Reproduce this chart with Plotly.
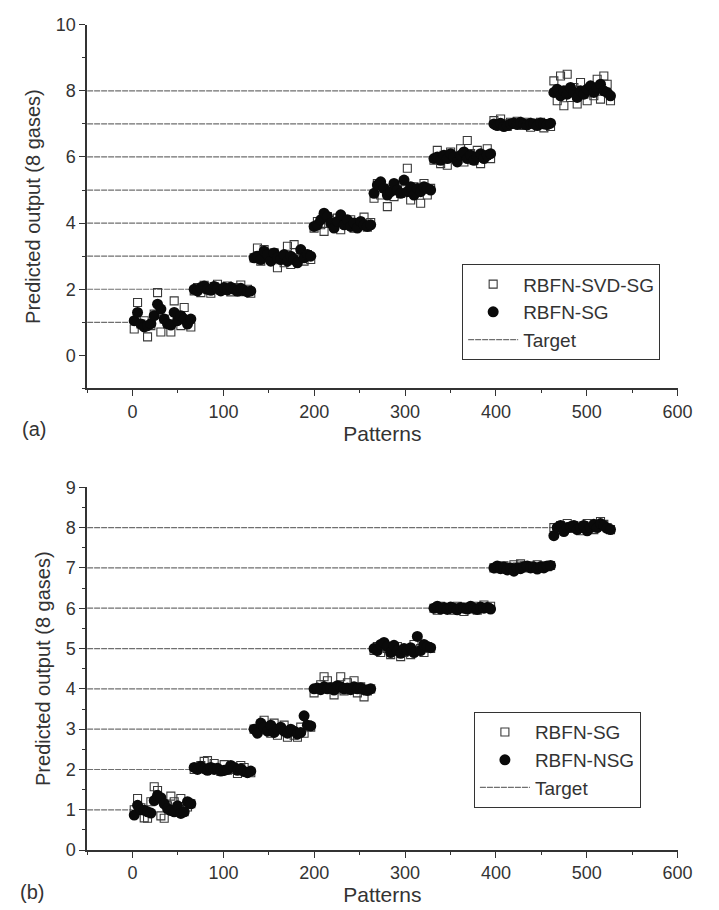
import numpy as np
import plotly.graph_objects as go

# ---------------- data ----------------
patterns_per_class = 66
target_levels = [1, 2, 3, 4, 5, 6, 7, 8]
class_starts = [0, 66, 132, 198, 264, 330, 396, 462]

# (a) RBFN-SVD-SG (open squares)
a_rbfn_svd_sg = [
    [0.80, 1.60, 0.95, 1.05, 0.56, 0.90, 1.25, 1.90, 0.71, 1.10, 0.95, 0.71, 1.65, 1.20, 0.90, 1.45, 1.00, 0.86],
    [1.95, 2.05, 1.90, 2.12, 2.00, 1.88, 2.08, 2.15, 1.97, 2.02, 2.10, 1.92, 2.05, 1.98, 2.13, 1.93, 2.00, 1.88],
    [2.95, 3.25, 2.85, 3.20, 3.05, 2.90, 3.10, 2.65, 3.00, 2.80, 3.30, 2.75, 3.35, 2.95, 3.15, 2.85, 3.05, 2.90],
    [3.85, 4.05, 3.95, 3.75, 4.20, 4.00, 3.90, 4.15, 3.80, 4.05, 3.95, 4.10, 3.85, 4.00, 3.92, 4.18, 3.88, 4.02],
    [4.75, 5.20, 4.85, 5.05, 4.50, 5.00, 4.80, 5.15, 4.90, 5.25, 5.66, 4.70, 5.10, 4.95, 4.60, 5.20, 4.85, 5.05],
    [5.90, 6.20, 5.80, 6.05, 5.75, 6.15, 5.95, 6.00, 6.25, 5.85, 6.50, 6.10, 5.90, 6.20, 5.80, 6.05, 6.25, 5.95],
    [7.10, 6.95, 7.15, 7.00, 6.92, 7.05, 6.98, 7.08, 7.00, 6.95, 7.05, 6.90, 7.02, 6.97, 7.05, 6.88, 7.00, 6.92],
    [8.30, 7.70, 8.45, 7.55, 8.50, 7.80, 8.10, 7.60, 8.25, 7.90, 7.70, 8.05, 7.85, 8.35, 7.75, 8.45, 8.20, 7.70],
]
# (a) RBFN-SG (filled circles)
a_rbfn_sg = [
    [1.05, 1.30, 0.95, 0.86, 0.90, 0.96, 1.20, 1.55, 1.40, 1.10, 0.96, 0.92, 1.30, 1.05, 1.20, 1.10, 0.95, 1.10],
    [2.00, 1.95, 2.05, 2.10, 2.00, 1.97, 2.08, 2.02, 1.95, 2.05, 1.98, 2.06, 2.00, 1.94, 2.03, 1.96, 1.92, 1.95],
    [2.95, 3.00, 2.90, 3.15, 3.05, 2.85, 3.10, 2.95, 2.90, 3.05, 2.85, 3.00, 2.90, 2.80, 3.20, 2.95, 3.05, 3.00],
    [3.90, 3.95, 4.10, 4.30, 4.20, 4.00, 3.85, 4.05, 4.25, 3.95, 4.10, 3.90, 4.00, 3.85, 4.05, 3.95, 3.90, 3.95],
    [4.90, 5.15, 5.25, 5.05, 4.85, 4.95, 5.20, 5.00, 4.90, 5.30, 4.95, 5.10, 4.85, 5.05, 4.95, 5.10, 5.05, 5.00],
    [5.95, 6.00, 5.90, 6.05, 5.95, 6.10, 6.00, 5.85, 6.05, 6.15, 5.95, 6.05, 5.90, 6.00, 6.10, 5.95, 6.05, 6.10],
    [7.00, 6.95, 7.02, 6.92, 6.95, 7.00, 7.03, 6.98, 7.05, 7.00, 6.97, 7.02, 7.00, 6.95, 7.03, 7.00, 6.98, 7.02],
    [7.95, 8.05, 7.85, 8.00, 7.90, 8.10, 7.95, 7.80, 8.00, 7.90, 8.05, 8.15, 7.95, 8.10, 8.20, 8.00, 7.95, 7.85],
]
# (b) RBFN-SG (open squares)
b_rbfn_sg = [
    [1.00, 1.28, 1.05, 0.80, 0.79, 1.20, 1.57, 1.48, 0.85, 0.79, 1.10, 1.34, 1.20, 1.05, 1.28, 0.95, 1.07, 1.15],
    [2.00, 2.05, 2.10, 2.20, 2.22, 2.05, 2.15, 2.00, 1.95, 2.12, 1.98, 2.05, 2.00, 1.90, 2.10, 2.05, 1.95, 1.92],
    [3.00, 2.95, 3.10, 3.22, 3.05, 2.90, 3.15, 2.85, 3.00, 3.10, 2.80, 2.95, 2.85, 2.80, 3.05, 2.90, 3.10, 3.05],
    [3.90, 4.00, 4.10, 4.30, 4.20, 4.05, 3.85, 4.00, 4.30, 3.95, 4.15, 4.00, 4.20, 3.90, 4.05, 3.80, 3.95, 4.00],
    [4.95, 5.05, 4.90, 5.10, 5.00, 4.85, 4.95, 5.05, 4.80, 4.90, 5.00, 4.85, 5.10, 4.95, 5.00, 4.90, 5.05, 5.00],
    [6.00, 5.95, 6.05, 6.00, 5.98, 6.02, 5.95, 6.05, 6.00, 5.92, 6.03, 5.98, 6.05, 5.95, 6.00, 6.08, 6.02, 6.05],
    [7.00, 6.98, 7.02, 7.05, 6.96, 7.00, 7.08, 7.02, 7.10, 7.05, 7.00, 7.05, 7.02, 7.08, 7.00, 7.05, 7.03, 7.06],
    [8.00, 7.95, 8.05, 8.00, 8.10, 7.98, 8.05, 8.00, 7.92, 8.05, 8.10, 8.00, 7.95, 8.05, 8.15, 8.08, 8.00, 7.95],
]
# (b) RBFN-NSG (filled circles)
b_rbfn_nsg = [
    [0.87, 1.11, 1.00, 0.99, 0.95, 0.92, 1.23, 1.36, 1.30, 1.15, 1.03, 0.98, 0.95, 1.10, 0.91, 0.95, 1.20, 1.15],
    [2.05, 2.00, 2.08, 2.02, 1.98, 2.05, 2.00, 2.03, 1.96, 1.98, 2.00, 2.10, 2.05, 1.98, 2.02, 1.95, 1.92, 1.96],
    [3.00, 2.90, 3.15, 3.05, 2.95, 3.10, 2.92, 3.00, 3.05, 2.95, 2.90, 3.00, 2.95, 2.88, 2.92, 3.33, 3.10, 3.08],
    [4.00, 4.02, 3.98, 4.05, 4.00, 4.03, 3.97, 4.08, 4.05, 4.00, 4.02, 3.98, 4.05, 4.00, 4.03, 3.98, 3.96, 4.00],
    [5.00, 4.95, 5.10, 5.15, 5.05, 4.90, 5.08, 4.95, 4.88, 5.00, 4.95, 5.02, 4.90, 5.30, 4.95, 5.10, 5.05, 5.02],
    [6.00, 6.05, 5.98, 6.02, 5.97, 6.03, 6.00, 5.96, 6.02, 6.00, 5.98, 6.05, 6.00, 5.97, 6.03, 6.00, 6.02, 5.98],
    [7.00, 7.05, 6.98, 7.02, 6.95, 7.00, 6.92, 7.00, 6.98, 7.03, 7.05, 7.00, 7.02, 6.97, 7.03, 7.00, 7.05, 7.06],
    [7.80, 8.00, 8.05, 7.90, 8.00, 8.02, 8.05, 7.95, 8.00, 8.05, 7.92, 8.00, 8.08, 8.00, 8.10, 8.05, 7.98, 7.95],
]

x_range = [-50, 600]
legend_a = ["RBFN-SVD-SG", "RBFN-SG", "Target"]
legend_b = ["RBFN-SG", "RBFN-NSG", "Target"]


def flatten(series):
    xs, ys = [], []
    for k, vals in enumerate(series):
        n = len(vals)
        step = patterns_per_class / n
        xs.extend(class_starts[k] + (np.arange(n) + 0.5) * step)
        ys.extend(vals)
    return xs, ys


def target_xy():
    xs, ys = [], []
    for lvl, start in zip(target_levels, class_starts):
        xs += [x_range[0], start, None]
        ys += [lvl, lvl, None]
    return xs, ys


FONT = "Liberation Sans, Arial, sans-serif"
INK = "#333333"

fig = go.Figure()

panels = [
    ("x", "y", a_rbfn_svd_sg, a_rbfn_sg, legend_a, "legend"),
    ("x2", "y2", b_rbfn_sg, b_rbfn_nsg, legend_b, "legend2"),
]
for xa, ya, sq, ci, names, leg in panels:
    tx, ty = target_xy()
    fig.add_trace(go.Scatter(x=tx, y=ty, mode="lines", name=names[2], xaxis=xa, yaxis=ya,
                             line=dict(color="#6f6f6f", width=1.2, dash="6px,1px"),
                             legend=leg, legendrank=3))
    sx, sy = flatten(sq)
    fig.add_trace(go.Scatter(x=sx, y=sy, mode="markers", name=names[0], xaxis=xa, yaxis=ya,
                             marker=dict(symbol="square-open", size=8, color="#3a3a3a",
                                         line=dict(width=1.1, color="#3a3a3a")),
                             legend=leg, legendrank=1))
    cx, cy = flatten(ci)
    fig.add_trace(go.Scatter(x=cx, y=cy, mode="markers", name=names[1], xaxis=xa, yaxis=ya,
                             marker=dict(symbol="circle", size=11, color="#0a0a0a", line=dict(width=0)),
                             legend=leg, legendrank=2))

xdom = [89 / 719, 692 / 719]
axis_common = dict(showline=True, linecolor=INK, linewidth=1.5, showgrid=False, zeroline=False,
                   ticks="outside", ticklen=6, tickwidth=1.3, tickcolor=INK,
                   tickfont=dict(family=FONT, size=18, color=INK),
                   title_font=dict(family=FONT, size=20, color=INK))

leg_font = dict(family=FONT, size=19, color=INK)

fig.update_layout(
    width=719, height=910,
    margin=dict(l=0, r=0, t=0, b=0),
    paper_bgcolor="white", plot_bgcolor="white",
    showlegend=True,
    xaxis=dict(axis_common, domain=xdom, anchor="y", range=x_range, dtick=100, tick0=0,
               minor=dict(ticks="outside", ticklen=3, dtick=50, tickcolor=INK),
               title=dict(text="Patterns", standoff=0, font=dict(family=FONT, size=21, color=INK))),
    yaxis=dict(axis_common, domain=[1 - 387 / 910, 1 - 15 / 910], anchor="x", range=[-1, 10],
               dtick=2, tick0=0, minor=dict(ticks="outside", ticklen=3, dtick=1, tickcolor=INK),
               title=dict(text="Predicted output (8 gases)", standoff=10)),
    xaxis2=dict(axis_common, domain=xdom, anchor="y2", range=x_range, dtick=100, tick0=0,
                minor=dict(ticks="outside", ticklen=3, dtick=50, tickcolor=INK),
                title=dict(text="Patterns", standoff=0, font=dict(family=FONT, size=21, color=INK))),
    yaxis2=dict(axis_common, domain=[1 - 859 / 910, 1 - 488 / 910], anchor="x2", range=[0, 9],
                dtick=1, tick0=0, minor=dict(ticks="outside", ticklen=3, dtick=0.5, tickcolor=INK),
                title=dict(text="Predicted output (8 gases)", standoff=10)),
    legend=dict(x=472 / 719, y=1 - 260 / 910, xanchor="left", yanchor="top",
                bordercolor=INK, borderwidth=1, bgcolor="white",
                font=leg_font, itemwidth=50, tracegroupgap=0),
    legend2=dict(x=484 / 719, y=1 - 718 / 910, xanchor="left", yanchor="top",
                 bordercolor=INK, borderwidth=1, bgcolor="white",
                 font=leg_font, itemwidth=50, tracegroupgap=0),
    annotations=[
        dict(text="(a)", x=20 / 719, y=1 - 428 / 910, xref="paper", yref="paper",
             xanchor="left", yanchor="middle", showarrow=False,
             font=dict(family=FONT, size=20, color=INK)),
        dict(text="(b)", x=18 / 719, y=1 - 902 / 910, xref="paper", yref="paper",
             xanchor="left", yanchor="middle", showarrow=False,
             font=dict(family=FONT, size=20, color=INK)),
    ],
)

fig.write_html("out.html")
